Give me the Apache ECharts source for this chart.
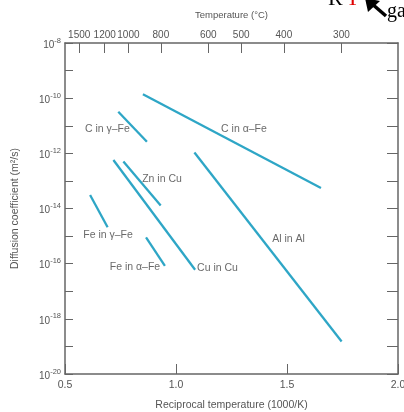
<!DOCTYPE html>
<html>
<head>
<meta charset="utf-8">
<script src="https://cdn.jsdelivr.net/npm/echarts@6/dist/echarts.min.js"></script>
<style>
html,body{margin:0;padding:0;background:#fff;}
#c{width:404px;height:412px;}
</style>
</head>
<body>
<div id="c"></div>
<script>
// Reciprocal temperature (1000/K) endpoints and log10 of diffusion coefficient (m^2/s)
var seriesNames = ['C in α-Fe', 'C in γ-Fe', 'Cu in Cu', 'Zn in Cu', 'Al in Al', 'Fe in γ-Fe', 'Fe in α-Fe'];
var cAlphaFe = [[0.851, -9.86], [1.653, -13.26]];
var cGammaFe = [[0.740, -10.49], [0.869, -11.58]];
var cuInCu   = [[0.718, -12.24], [1.086, -16.22]];
var znInCu   = [[0.763, -12.30], [0.931, -13.89]];
var alInAl   = [[1.083, -11.97], [1.746, -18.82]];
var feGammaFe = [[0.613, -13.51], [0.692, -14.68]];
var feAlphaFe = [[0.865, -15.05], [0.950, -16.08]];
var seriesValues = [cAlphaFe, cGammaFe, cuInCu, znInCu, alInAl, feGammaFe, feAlphaFe];

// label texts and their anchor points (data coords)
var labelTexts = ['C in γ–Fe', 'C in α–Fe', 'Zn in Cu', 'Fe in γ–Fe', 'Fe in α–Fe', 'Cu in Cu', 'Al in Al'];
var labelPoints = [[0.691, -11.12], [1.306, -11.12], [0.937, -12.93], [0.694, -14.96], [0.815, -16.12], [1.187, -16.15], [1.507, -15.10]];

// top axis temperature tick labels (°C)
var tempTicks = [1500, 1200, 1000, 800, 600, 500, 400, 300];
// bottom axis ticks
var xTicks = [0.5, 1.0, 1.5, 2.0];
// y exponents
var yMinExp = -20, yMaxExp = -8;

var tempPos = tempTicks.map(function (t) { return 1000 / (t + 273); });

var lineColor = '#2ea6c6';
var axisColor = '#666';
var textColor = '#555';
var font = 'Liberation Sans';

var chart = echarts.init(document.getElementById('c'), null, {renderer: 'canvas'});

var series = seriesValues.map(function (d, i) {
  return {
    type: 'line', name: seriesNames[i], data: d, showSymbol: false, symbol: 'none',
    lineStyle: {color: lineColor, width: 2.3}, silent: true, animation: false,
    xAxisIndex: 0, yAxisIndex: 0
  };
});
series.push({
  type: 'scatter', symbolSize: 0, silent: true, animation: false,
  data: labelPoints.map(function (p, i) { return {value: p, name: labelTexts[i]}; }),
  label: {
    show: true, position: [0, 0], align: 'center', verticalAlign: 'middle',
    formatter: function (p) { return p.name; },
    color: '#444', fontSize: 10.5, fontFamily: font
  }
});

chart.setOption({
  animation: false,
  backgroundColor: '#fff',
  grid: {left: 65, right: 6, top: 43, bottom: 38, containLabel: false, outerBoundsMode: 'none'},
  xAxis: [{
    type: 'value', position: 'bottom', min: 0.5, max: 2.0, interval: 0.5,
    axisLine: {lineStyle: {color: axisColor, width: 1.5}},
    axisTick: {inside: true, length: 10, lineStyle: {color: axisColor, width: 1}},
    axisLabel: {color: textColor, fontSize: 10.5, fontFamily: font, margin: 6,
      formatter: function (v) { return v.toFixed(1); }},
    splitLine: {show: false},
    name: 'Reciprocal temperature (1000/K)', nameLocation: 'middle', nameGap: 26,
    nameTextStyle: {color: textColor, fontSize: 10.5, fontFamily: font}
  }, {
    type: 'value', position: 'top', min: 0.5, max: 2.0,
    axisLine: {lineStyle: {color: axisColor, width: 1.5}},
    axisTick: {inside: true, length: 10, customValues: tempPos, lineStyle: {color: axisColor, width: 1}},
    axisLabel: {color: textColor, fontSize: 10, fontFamily: font, margin: 3, customValues: tempPos,
      formatter: function (v) { return String(Math.round((1000 / v - 273) / 10) * 10); }},
    splitLine: {show: false},
    name: 'Temperature (°C)', nameLocation: 'middle', nameGap: 23,
    nameTextStyle: {color: textColor, fontSize: 9.5, fontFamily: font}
  }],
  yAxis: [{
    type: 'value', position: 'left', min: yMinExp, max: yMaxExp, interval: 1,
    axisLine: {lineStyle: {color: axisColor, width: 1.5}},
    axisTick: {inside: true, length: 8, lineStyle: {color: axisColor, width: 1}},
    axisLabel: {
      color: textColor, fontFamily: font, margin: 4,
      formatter: function (v) { return (v % 2 === 0) ? '{b|10}{s|' + v + '}' : ''; },
      rich: {
        b: {fontSize: 10, color: textColor, fontFamily: font, padding: [4, 0, 0, 0]},
        s: {fontSize: 7.5, color: textColor, fontFamily: font, padding: [0, 0, 5, 0]}
      }
    },
    splitLine: {show: false},
    name: 'Diffusion coefficient (m²/s)', nameLocation: 'middle', nameGap: 44, nameRotate: 90,
    nameTextStyle: {color: textColor, fontSize: 10.5, fontFamily: font}
  }, {
    type: 'value', position: 'right', min: yMinExp, max: yMaxExp, interval: 1,
    axisLine: {show: true, lineStyle: {color: axisColor, width: 1.5}},
    axisTick: {show: true, inside: true, length: 11, lineStyle: {color: axisColor, width: 1}},
    axisLabel: {show: false},
    splitLine: {show: false}
  }],
  graphic: [
    {type: 'text', left: 328, top: -12, style: {text: 'R', fill: '#000', font: '22px "Liberation Serif"'}},
    {type: 'text', left: 346, top: -12, style: {text: 'T', fill: '#e00000', font: '22px "Liberation Serif"'}},
    {type: 'line', shape: {x1: 386, y1: 16, x2: 371, y2: 3}, style: {stroke: '#000', lineWidth: 3.5}},
    {type: 'polygon', shape: {points: [[365, -2], [380, 1], [368, 12]]}, style: {fill: '#000'}},
    {type: 'text', left: 387, top: 2, style: {text: 'ga', fill: '#000', font: '20px "Liberation Serif"'}}
  ],
  series: series
});
</script>
</body>
</html>
